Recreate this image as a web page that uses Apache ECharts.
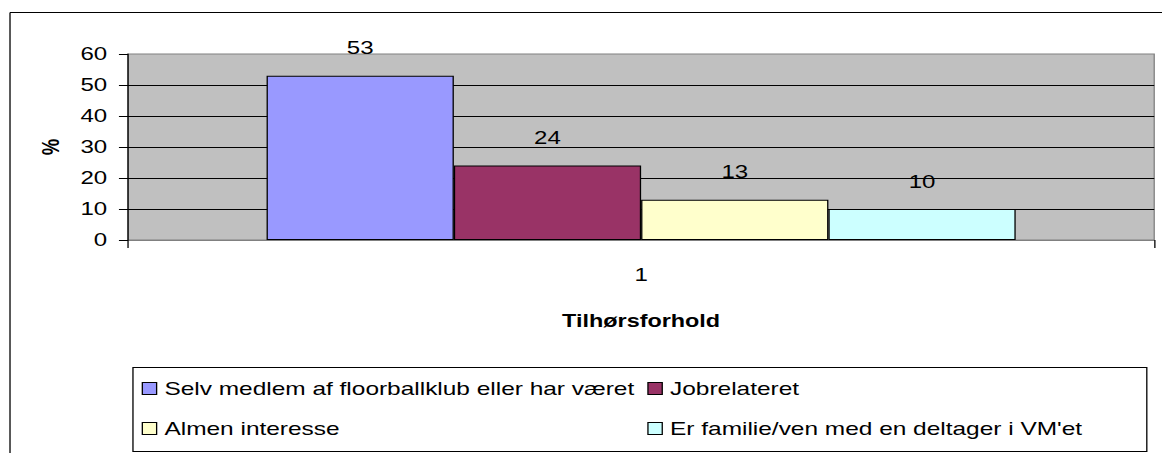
<!DOCTYPE html>
<html>
<head>
<meta charset="utf-8">
<title>Tilhørsforhold</title>
<script src="https://cdn.jsdelivr.net/npm/echarts@6/dist/echarts.min.js"></script>
<style>
  html, body { margin: 0; padding: 0; background: #fff; overflow: hidden; }
  /* the original Excel chart is stretched sideways, so draw narrow and stretch */
  #chart {
    width: 894px;
    height: 453px;
    transform: scaleX(1.2998);
    transform-origin: 0 0;
  }
</style>
</head>
<body>
<div id="chart"></div>
<script>
// data
const categories = ['1']
const seriesNames = [
  'Selv medlem af floorballklub eller har været',
  'Jobrelateret',
  'Almen interesse',
  'Er familie/ven med en deltager i VM\'et'
]
const values = [53, 24, 13, 10]
const colors = ['#9999ff', '#993366', '#ffffcc', '#ccffff']

const FONT = '"Liberation Sans", Arial, sans-serif'

const chart = echarts.init(document.getElementById('chart'), null, { renderer: 'svg' })

// legend slots like Excel lays them out (2 x 2)
const legendPos = [
  { left: 109, top: 379 },
  { left: 498, top: 379 },
  { left: 109, top: 419 },
  { left: 498, top: 419 }
]

const option = {
  animation: false,
  grid: {
    left: 98.5,
    right: 6,
    top: 54,
    bottom: 213,
    show: true,
    backgroundColor: '#c0c0c0',
    borderColor: '#808080',
    borderWidth: 1
  },
  legend: seriesNames.map((name, i) => ({
    data: [name],
    left: legendPos[i].left,
    top: legendPos[i].top,
    padding: 0,
    icon: 'rect',
    itemWidth: 11,
    itemHeight: 12,
    selectedMode: false,
    itemStyle: { borderColor: '#000', borderWidth: 1 },
    textStyle: { fontFamily: FONT, fontSize: 18.8, color: '#000', padding: [0, 0, 0, 1] }
  })),
  xAxis: {
    type: 'category',
    data: categories,
    name: 'Tilhørsforhold',
    nameLocation: 'middle',
    nameGap: 72,
    nameTextStyle: { fontFamily: FONT, fontSize: 18, fontWeight: 'bold', color: '#000' },
    axisLine: { lineStyle: { color: '#808080', width: 1 } },
    axisTick: { show: true, length: 8, interval: 0, lineStyle: { color: '#000' } },
    axisLabel: { fontFamily: FONT, fontSize: 18.5, color: '#000', margin: 25 }
  },
  yAxis: {
    type: 'value',
    min: 0,
    max: 60,
    interval: 10,
    name: '%',
    nameLocation: 'middle',
    nameGap: 50,
    nameRotate: 90,
    nameTextStyle: { fontFamily: FONT, fontSize: 18.5, fontWeight: 'bold', color: '#000' },
    axisLine: { show: true, lineStyle: { color: '#000', width: 1 } },
    axisTick: { show: true, length: 7, lineStyle: { color: '#000' } },
    axisLabel: { fontFamily: FONT, fontSize: 18.5, color: '#000', margin: 16 },
    splitLine: {
      show: true,
      showMinLine: false,
      showMaxLine: false,
      lineStyle: { color: '#000', width: 1 }
    }
  },
  series: seriesNames.map((name, i) => ({
    name: name,
    type: 'bar',
    data: [values[i]],
    barGap: '0%',
    barCategoryGap: '27%',
    itemStyle: { color: colors[i], borderColor: '#000', borderWidth: 1 },
    label: {
      show: true,
      position: 'top',
      distance: 18,
      fontFamily: FONT,
      fontSize: 18.5,
      color: '#000'
    }
  })),
  graphic: [
    // outer chart frame (only top and left edges are in view)
    { type: 'line', shape: { x1: 7.7, y1: 12.5, x2: 894, y2: 12.5 }, style: { stroke: '#000', lineWidth: 1.2 } },
    { type: 'line', shape: { x1: 7.7, y1: 12.5, x2: 7.7, y2: 453 }, style: { stroke: '#000', lineWidth: 1 } },
    // legend box
    { type: 'rect', shape: { x: 102.3, y: 367.5, width: 780, height: 84 }, style: { fill: 'none', stroke: '#000', lineWidth: 1 }, z: 1 }
  ]
}

chart.setOption(option)
</script>
</body>
</html>
